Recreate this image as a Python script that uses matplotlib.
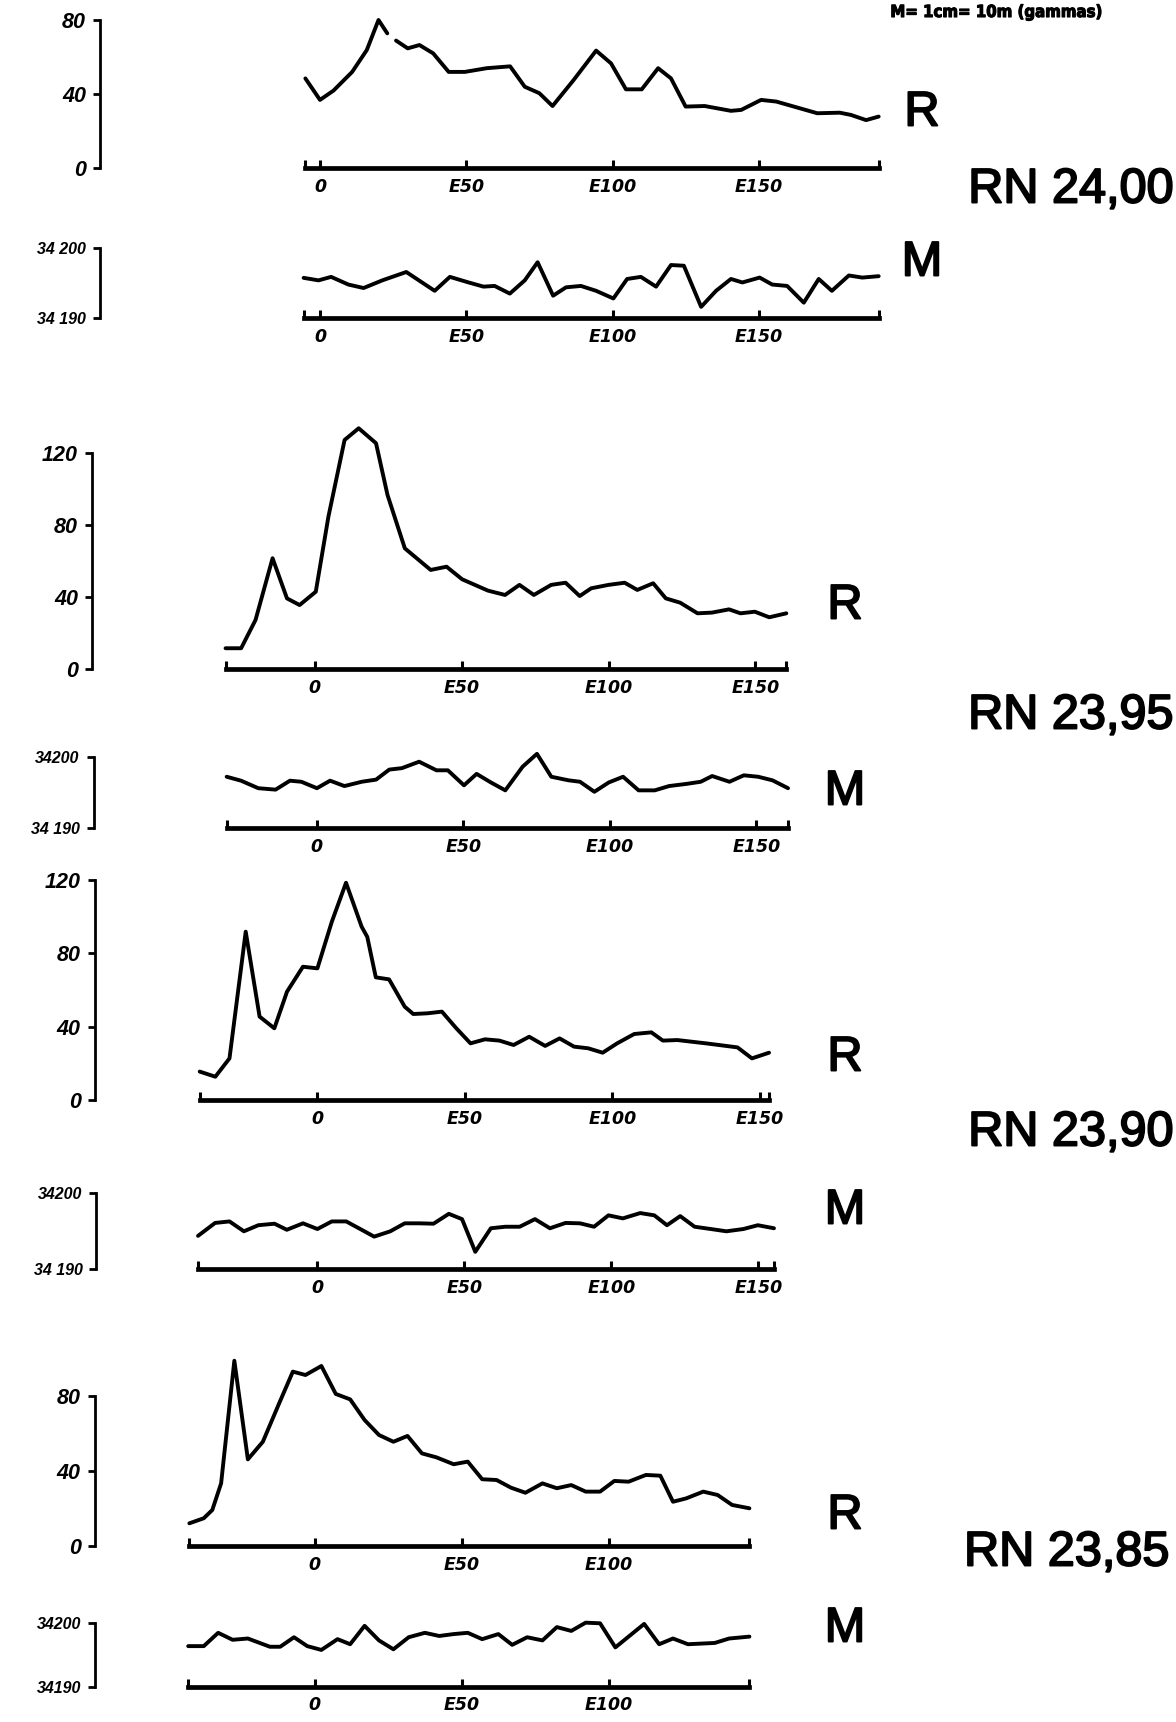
import numpy as np
import matplotlib
matplotlib.use("Agg")
import matplotlib.pyplot as plt
from matplotlib import font_manager
import matplotlib.patheffects as pe

# ---------------- data (read from the scanned profiles) ----------------
# RN 24,00  -- R profile (NaN = pen lift)
rn2400_r_x = [-5, 0, 4.6, 11, 16, 20, 23, np.nan, 26, 30, 34, 38.7, 44, 49.5, 57, 65, 70, 75, 79.5,
              86.7, 94.4, 99.5, 104.6, 110, 115.6, 120, 125, 131.5, 140.5, 144, 150.8, 156, 162,
              170, 177.7, 181.5, 186.7, 191]
rn2400_r_v = [48.5, 36.9, 41.9, 52, 63.8, 80, 72.8, np.nan, 68.9, 64.7, 66.5, 62, 52, 52, 54, 55, 44,
              40.5, 33.6, 47.6, 63.5, 56.6, 42.6, 42.6, 54, 48.5, 33.3, 33.6, 31, 31.5, 36.9, 36,
              33.3, 29.7, 30, 28.8, 26, 27.9]
# RN 24,00  -- M profile
rn2400_m_x = [-5.6, -0.5, 3.8, 9.7, 14.9, 21.3, 29.5, 39.2, 44.4, 50.8, 55.9, 59.7, 64.9, 70, 74.4,
              79.7, 84.1, 89.2, 94.4, 100.3, 105, 109.7, 114.9, 120, 124.4, 130.3, 135.4, 140.5,
              144.4, 150.3, 154.6, 159.7, 165.4, 170.5, 175, 180.8, 185.4, 191]
rn2400_m_v = [34195.76, 34195.4, 34195.9, 34194.8, 34194.3, 34195.4, 34196.6, 34193.9, 34195.9,
              34195.1, 34194.5, 34194.6, 34193.5, 34195.4, 34198.0, 34193.2, 34194.4, 34194.6,
              34193.9, 34192.8, 34195.6, 34195.9, 34194.5, 34197.6, 34197.5, 34191.6, 34193.9,
              34195.6, 34195.1, 34195.8, 34194.8, 34194.6, 34192.2, 34195.6, 34193.9, 34196.1,
              34195.8, 34196.0]

# RN 23,95
rn2395_r_x = [-30.3, -25, -20.1, -14.3, -9.4, -5.1, 0.4, 4.7, 10.2, 15, 20.9, 24.8, 30.7, 39.5, 44.9,
              50.2, 59, 64.8, 69.7, 74.6, 80.5, 85.4, 90.2, 94.1, 100, 105.5, 109.8, 115.2, 119.5,
              124.4, 130.3, 135.2, 141, 144.9, 149.8, 154.7, 160.5]
rn2395_r_v = [11.7, 11.7, 27.4, 61.7, 39.4, 35.7, 43.1, 84.8, 127.4, 133.9, 125.6, 96.9, 67.2, 55.2,
              57, 50, 43.7, 41.3, 46.9, 41.3, 46.9, 48.1, 40.7, 45, 46.9, 48.1, 44.1, 47.8, 39.4, 37,
              31.1, 31.5, 33.3, 31.1, 32, 28.9, 31.1]
rn2395_m_x = [-30.8, -25.9, -20, -14.1, -9.2, -5.3, 0, 4.5, 9.4, 15.3, 20.2, 24.7, 29, 34.9, 40.8,
              44.7, 50.2, 54.5, 59.4, 64.3, 70.2, 75.1, 80, 85.9, 89.8, 94.7, 99.6, 104.5, 109.8,
              115.3, 120.2, 126.1, 131, 134.9, 140.8, 145.7, 150.6, 155.5, 160.8]
rn2395_m_v = [34197.2, 34196.65, 34195.6, 34195.4, 34196.65, 34196.5, 34195.6, 34196.65, 34195.9,
              34196.5, 34196.8, 34198.2, 34198.4, 34199.3, 34198.1, 34198.1, 34196.0, 34197.6,
              34196.4, 34195.3, 34198.6, 34200.4, 34197.2, 34196.7, 34196.5, 34195.1, 34196.4,
              34197.2, 34195.3, 34195.3, 34195.9, 34196.2, 34196.5, 34197.3, 34196.5, 34197.4,
              34197.2, 34196.7, 34195.6]

# RN 23,90
rn2390_r_x = [-39.9, -34.6, -29.8, -24.3, -19.6, -14.6, -10.3, -4.9, 0, 4.9, 9.7, 15, 16.9, 19.8,
              24.3, 29.6, 32.5, 37.4, 42.2, 47.1, 51.9, 56.8, 61.7, 66.5, 71.8, 77.2, 82.1, 87,
              91.8, 96.7, 101.6, 107.4, 113.2, 117.1, 122, 131.7, 142.4, 147.3, 153.1]
rn2390_r_v = [15.5, 12.7, 22.7, 91.8, 45.5, 39.1, 59.1, 72.7, 71.8, 97.3, 118.5, 94.5, 89, 66.9,
              65.8, 50.9, 46.9, 47.3, 48.2, 39.1, 30.9, 33.1, 32.4, 30, 34.5, 29.5, 33.6, 29.1,
              28.2, 25.8, 30.9, 36, 36.9, 32.4, 32.7, 30.9, 28.7, 22.7, 25.8]
rn2390_m_x = [-40.6, -34.8, -29.9, -25, -20.1, -14.6, -10.4, -4.9, 0, 4.9, 9.8, 14.1, 19.3, 24.8,
              29.7, 34.6, 39.5, 44.7, 49.2, 53.7, 59, 63.9, 68.8, 74, 79.1, 84.4, 89.3, 94.1, 99,
              103.9, 109.8, 114.6, 118.9, 123.4, 128.3, 133.8, 139.1, 144.9, 149.8, 155.3]
rn2390_m_v = [34194.4, 34196.1, 34196.3, 34195.0, 34195.8, 34196.0, 34195.2, 34196.05, 34195.3,
              34196.3, 34196.3, 34195.4, 34194.3, 34195.0, 34196.05, 34196.05, 34196.0, 34197.3,
              34196.6, 34192.3, 34195.4, 34195.6, 34195.6, 34196.6, 34195.4, 34196.1, 34196.05,
              34195.6, 34197.1, 34196.7, 34197.4, 34197.1, 34195.8, 34197.0, 34195.6, 34195.3,
              34195.0, 34195.3, 34195.8, 34195.4]

# RN 23,85
rn2385_r_x = [-42.6, -37.7, -34.8, -31.8, -27.3, -22.7, -17.6, -12.3, -7.4, -3.1, 2.3, 7.2, 12.1,
              17, 21.9, 26.8, 31.6, 36.5, 41.4, 47.3, 52.1, 57, 61.9, 66.8, 71.7, 77.5, 82.4, 87.3,
              92.2, 97.1, 101.95, 106.8, 112.7, 117.6, 121.9, 126.4, 132.2, 137.1, 142, 147.9]
rn2385_r_v = [12.1, 14.8, 19.2, 33.4, 98.8, 46.2, 55.6, 75.2, 93, 91.2, 96, 81.1, 78.2, 67.2, 59.2,
              55.6, 58.7, 49.4, 47.3, 43.6, 45, 35.6, 35.2, 31.1, 28.4, 33.4, 30.8, 32.5, 29, 29,
              34.7, 34.3, 37.9, 37.5, 23.6, 25.4, 29, 27.2, 21.9, 20.1]
rn2385_m_x = [-43, -37.7, -32.8, -27.9, -22.7, -15.2, -11.7, -7, -2.5, 2.3, 7.8, 12.1, 17, 21.9,
              26.8, 32, 37.5, 42.4, 47.3, 52.1, 57, 62.5, 67.2, 72.3, 77.5, 82.4, 87.3, 92.2, 97.1,
              102.3, 106.8, 112.1, 117.2, 121.9, 127, 136.1, 141, 147.9]
rn2385_m_v = [34196.4, 34196.4, 34198.5, 34197.4, 34197.6, 34196.3, 34196.3, 34197.8, 34196.4,
              34195.8, 34197.5, 34196.7, 34199.6, 34197.3, 34195.9, 34197.8, 34198.5, 34198.0,
              34198.3, 34198.5, 34197.5, 34198.3, 34196.6, 34197.8, 34197.3, 34199.4, 34198.8,
              34200.1, 34200.0, 34196.2, 34197.9, 34199.9, 34196.7, 34197.6, 34196.7, 34196.9,
              34197.6, 34197.9]

r_ticks_80 = [0, 40, 80]
r_ticks_120 = [0, 40, 80, 120]
m_ticks = [34190, 34200]
station_ticks_4 = [0, 50, 100, 150]
station_labels_4 = ["0", "E50", "E100", "E150"]
station_ticks_3 = [0, 50, 100]
station_labels_3 = ["0", "E50", "E100"]

profile_names = ["RN 24,00", "RN 23,95", "RN 23,90", "RN 23,85"]
header_text = "M= 1cm= 10m (gammas)"

# ---------------- fonts ----------------
plt.rcParams["font.family"] = ["Liberation Sans", "DejaVu Sans"]
cond_file = None
for f in font_manager.fontManager.ttflist:
    fn = f.fname.lower()
    if ("narrow" in fn or "condensed" in fn) and "italic" not in fn and "oblique" not in fn \
            and "bold" in fn and ("sans" in fn):
        cond_file = f.fname
        break
if cond_file:
    HEAD_FP = font_manager.FontProperties(fname=cond_file, size=12)
else:
    HEAD_FP = font_manager.FontProperties(family=["Liberation Sans", "DejaVu Sans"],
                                          weight="bold", size=11)

W, H = 1176, 1722
fig = plt.figure(figsize=(W / 100, H / 100), dpi=100)
fig.patch.set_facecolor("white")


def panel(xs, vs, spine_x, x0_px, ppu, ytop_px, ybot_px, ymin, ymax, yticks, ylabels,
          xticks, xlabels, ylab_size):
    right_px = x0_px + 205 * ppu
    ax = fig.add_axes([spine_x / W, 1 - ybot_px / H, (right_px - spine_x) / W,
                       (ybot_px - ytop_px) / H])
    ax.patch.set_alpha(0)
    ax.set_xlim((spine_x - x0_px) / ppu, (right_px - x0_px) / ppu)
    ax.set_ylim(ymin, ymax)
    ax.plot(xs, vs, color="black", lw=2.8, clip_on=False,
            solid_joinstyle="round", solid_capstyle="round")
    for s in ("top", "right"):
        ax.spines[s].set_visible(False)
    ax.spines["left"].set_bounds(ymin, ymax)
    ax.spines["left"].set_linewidth(2.0)
    xf = [x for x in xs if np.isfinite(x)]
    ax.spines["bottom"].set_bounds(xf[0], xf[-1])
    ax.spines["bottom"].set_linewidth(3.4)
    ax.set_xticks([xf[0]] + list(xticks) + [xf[-1]])
    ax.set_xticklabels([""] + list(xlabels) + [""], fontsize=12.5, fontweight="bold",
                       family=["DejaVu Sans"], style="oblique")
    ax.set_yticks(yticks)
    ax.set_yticklabels(ylabels, fontsize=ylab_size, fontweight="bold", style="italic")
    ax.tick_params(axis="x", direction="in", length=6, width=2.2, pad=7)
    ax.tick_params(axis="y", direction="out", length=5, width=2.0, pad=5)
    return ax


# RN 24,00
panel(rn2400_r_x, rn2400_r_v, 100, 320, 2.925, 20, 168.3, 0, 80, r_ticks_80,
      ["0", "40", "80"], station_ticks_4, station_labels_4, 15.5)
panel(rn2400_m_x, rn2400_m_v, 100, 320, 2.925, 248.3, 318, 34190, 34200, m_ticks,
      ["34 190", "34 200"], station_ticks_4, station_labels_4, 11.5)
# RN 23,95
panel(rn2395_r_x, rn2395_r_v, 92, 314.6, 2.939, 453.3, 669.3, 0, 120, r_ticks_120,
      ["0", "40", "80", "120"], station_ticks_4, station_labels_4, 15.5)
panel(rn2395_m_x, rn2395_m_v, 93.6, 316.9, 2.93, 756.7, 828.3, 34190, 34200, m_ticks,
      ["34 190", "34200"], station_ticks_4, station_labels_4, 11.5)
# RN 23,90
panel(rn2390_r_x, rn2390_r_v, 94.7, 317.4, 2.95, 880, 1100, 0, 120, r_ticks_120,
      ["0", "40", "80", "120"], station_ticks_4, station_labels_4, 15.5)
panel(rn2390_m_x, rn2390_m_v, 96.4, 317.4, 2.94, 1193.3, 1269.3, 34190, 34200, m_ticks,
      ["34 190", "34200"], station_ticks_4, station_labels_4, 11.5)
# RN 23,85
panel(rn2385_r_x, rn2385_r_v, 94.7, 314.6, 2.94, 1396, 1546, 0, 80, r_ticks_80,
      ["0", "40", "80"], station_ticks_3, station_labels_3, 15.5)
panel(rn2385_m_x, rn2385_m_v, 94.7, 314.6, 2.94, 1623.3, 1686.7, 34190, 34200, m_ticks,
      ["34190", "34200"], station_ticks_3, station_labels_3, 11.5)


def ftext(xpx, ypx, s, **kw):
    return fig.text(xpx / W, 1 - ypx / H, s, **kw)


thick = [pe.withStroke(linewidth=1.4, foreground="black")]
big = dict(fontsize=35, family=["Liberation Sans", "DejaVu Sans"],
           ha="center", va="center", color="black", path_effects=thick)
# R / M labels
ftext(922, 113, "R", **big)
ftext(922, 263, "M", **big)
ftext(845, 606, "R", **big)
ftext(845, 792, "M", **big)
ftext(845, 1058, "R", **big)
ftext(845, 1211, "M", **big)
ftext(845, 1516, "R", **big)
ftext(845, 1629, "M", **big)
# profile names
for (xp, yp), name in zip([(1071, 190), (1071, 716), (1071, 1133), (1067, 1553)], profile_names):
    ftext(xp, yp, name, **big)

# header at the top of the page
ftext(996, 17, header_text, fontproperties=HEAD_FP, ha="center", va="baseline",
      path_effects=[pe.withStroke(linewidth=0.8, foreground="black")])

fig.savefig("out.png", dpi=100, facecolor="white")
